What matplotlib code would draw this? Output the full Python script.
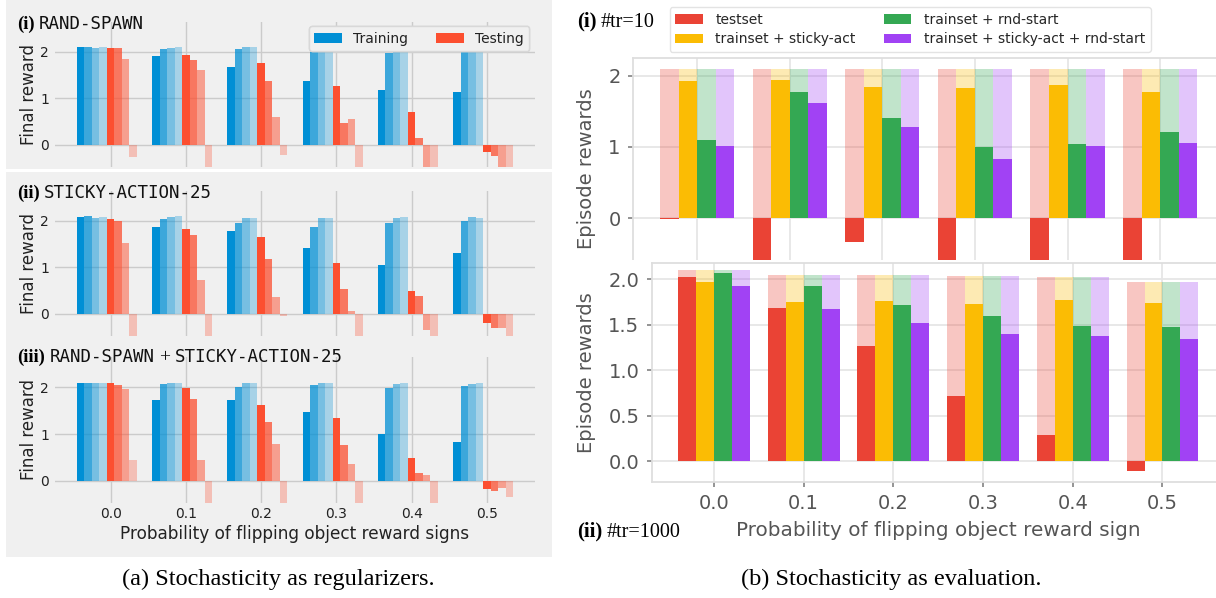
import numpy as np
import matplotlib
matplotlib.use("Agg")
import matplotlib.pyplot as plt
from matplotlib.patches import Rectangle

# ---------------- data ----------------
flip_probs = [0.0, 0.1, 0.2, 0.3, 0.4, 0.5]
xtick_labels = ["0.0", "0.1", "0.2", "0.3", "0.4", "0.5"]

# (a)(i) RAND-SPAWN : four training runs (dark -> light) and four testing runs
rs_train_1 = [2.10, 1.91, 1.67, 1.37, 1.18, 1.14]
rs_train_2 = [2.10, 2.06, 2.06, 2.04, 1.97, 2.04]
rs_train_3 = [2.08, 2.08, 2.10, 2.06, 2.08, 2.08]
rs_train_4 = [2.10, 2.10, 2.10, 2.10, 2.10, 2.08]
rs_test_1 = [2.08, 1.93, 1.76, 1.26, 0.71, -0.14]
rs_test_2 = [2.08, 1.82, 1.37, 0.47, 0.15, -0.23]
rs_test_3 = [1.84, 1.61, 0.59, 0.56, -0.80, -0.80]
rs_test_4 = [-0.25, -0.80, -0.21, -0.80, -0.80, -0.80]

# (a)(ii) STICKY-ACTION-25
sa_train_1 = [2.08, 1.86, 1.78, 1.41, 1.05, 1.31]
sa_train_2 = [2.10, 2.04, 1.95, 1.86, 1.95, 1.99]
sa_train_3 = [2.06, 2.08, 2.06, 2.06, 2.06, 2.08]
sa_train_4 = [2.08, 2.10, 2.06, 2.06, 2.08, 2.06]
sa_test_1 = [2.04, 1.82, 1.65, 1.09, 0.49, -0.19]
sa_test_2 = [1.99, 1.69, 1.18, 0.54, 0.39, -0.30]
sa_test_3 = [1.52, 0.73, 0.36, 0.06, -0.34, -0.30]
sa_test_4 = [-0.80, -0.80, -0.04, -0.80, -0.80, -0.80]

# (a)(iii) RAND-SPAWN + STICKY-ACTION-25
both_train_1 = [2.09, 1.73, 1.73, 1.47, 1.00, 0.83]
both_train_2 = [2.09, 2.07, 2.01, 2.05, 1.99, 2.03]
both_train_3 = [2.09, 2.09, 2.09, 2.09, 2.07, 2.07]
both_train_4 = [2.09, 2.09, 2.09, 2.09, 2.09, 2.09]
both_test_1 = [2.09, 1.99, 1.62, 1.34, 0.49, -0.17]
both_test_2 = [2.05, 1.75, 1.26, 0.76, 0.16, -0.21]
both_test_3 = [1.96, 0.44, 0.79, 0.36, 0.12, -0.15]
both_test_4 = [0.44, -0.80, -0.80, -0.80, -0.80, -0.34]

# (b)(i) #tr=10
tr10_testset = [-0.01, -0.90, -0.33, -0.90, -0.90, -0.90]
tr10_sticky = [1.93, 1.94, 1.845, 1.83, 1.87, 1.775]
tr10_rnd = [1.10, 1.775, 1.41, 1.00, 1.04, 1.21]
tr10_sticky_rnd = [1.02, 1.61, 1.28, 0.83, 1.02, 1.06]
tr10_max = [2.10, 2.10, 2.10, 2.10, 2.10, 2.10]

# (b)(ii) #tr=1000
tr1000_testset = [2.03, 1.685, 1.27, 0.72, 0.29, -0.11]
tr1000_sticky = [1.97, 1.75, 1.76, 1.73, 1.77, 1.74]
tr1000_rnd = [2.07, 1.93, 1.72, 1.60, 1.49, 1.48]
tr1000_sticky_rnd = [1.93, 1.67, 1.52, 1.40, 1.38, 1.34]
tr1000_max = [2.10, 2.05, 2.05, 2.04, 2.03, 1.97]

right_labels = ["testset", "trainset + sticky-act", "trainset + rnd-start",
                "trainset + sticky-act + rnd-start"]

# ---------------- style ----------------
W, H = 1216, 598
GRAY_BG = "#f0f0f0"
BLUE = "#008fd5"
RED = "#fc4f30"
SHADES = [1.0, 0.75, 0.5, 0.3]
G_RED, G_YEL, G_GRN, G_PUR = "#ea4335", "#fbbc04", "#34a853", "#a142f4"
R_TXT = "#555555"
SERIF = ["Liberation Serif", "DejaVu Serif"]
MONO = ["DejaVu Sans Mono"]

fig = plt.figure(figsize=(W / 100, H / 100), dpi=100)
fig.patch.set_facecolor("white")
renderer = fig.canvas.get_renderer()


def fx(px):
    return px / W


def fy(py):
    return 1 - py / H


def rect_px(x0, y0, x1, y1):
    return [fx(x0), fy(y1), (x1 - x0) / W, (y1 - y0) / H]


# gray background of panel (a) + white separator
fig.add_artist(Rectangle((fx(6), fy(557)), (552 - 6) / W, 557 / H, transform=fig.transFigure,
                         facecolor=GRAY_BG, edgecolor="none", zorder=-2))
fig.add_artist(Rectangle((fx(6), fy(172)), (552 - 6) / W, 3 / H, transform=fig.transFigure,
                         facecolor="white", edgecolor="none", zorder=-1))


def draw_left(box, train, test, show_x):
    ax = fig.add_axes(rect_px(*box))
    ax.set_facecolor(GRAY_BG)
    for sp in ax.spines.values():
        sp.set_visible(False)
    x = np.array(flip_probs)
    w = 0.01
    for i, vals in enumerate(train):
        ax.bar(x + (i - 4) * w, vals, w, color=BLUE, alpha=SHADES[i], linewidth=0,
               label="Training" if i == 0 else "_nolegend_")
    for i, vals in enumerate(test):
        ax.bar(x + i * w, vals, w, color=RED, alpha=SHADES[i], linewidth=0,
               label="Testing" if i == 0 else "_nolegend_")
    ax.set_xlim(-0.0735, 0.5635)
    ax.set_ylim(-0.465, 2.64)
    ax.set_yticks([0, 1, 2])
    ax.set_xticks(flip_probs)
    ax.set_xticklabels(xtick_labels if show_x else [])
    ax.grid(True, color="#cbcbcb", linewidth=1.0)
    ax.set_axisbelow(True)
    ax.tick_params(axis="both", length=0, labelsize=10, colors="#222222")
    ax.tick_params(axis="y", pad=4.5)
    ax.tick_params(axis="x", pad=3)
    ax.set_ylabel("Final reward", fontsize=12, color="#222222", va="center")
    ax.yaxis.set_label_coords((29.5 - box[0]) / (box[2] - box[0]), 0.5)
    if show_x:
        ax.set_xlabel("Probability of flipping object reward signs", fontsize=12.2,
                      color="#222222", va="center")
        ax.xaxis.set_label_coords(0.5, -(534.0 - box[3]) / (box[3] - box[1]))
    bw = box[2] - box[0]
    bh = box[3] - box[1]
    leg = ax.legend(loc="upper right", bbox_to_anchor=((529.3 - box[0]) / bw, 1 - (26 - box[1]) / bh),
                    ncol=2, fontsize=10, frameon=True, fancybox=True, borderaxespad=0,
                    columnspacing=2.0)
    leg.get_frame().set_facecolor(GRAY_BG)
    leg.get_frame().set_edgecolor("#d8d8d8")
    leg.get_frame().set_alpha(1)
    for t in leg.get_texts():
        t.set_color("#222222")
    return ax


draw_left((55.4, 21.7, 534.6, 166.7),
          [rs_train_1, rs_train_2, rs_train_3, rs_train_4],
          [rs_test_1, rs_test_2, rs_test_3, rs_test_4], False)
draw_left((55.4, 190.7, 534.6, 335.7),
          [sa_train_1, sa_train_2, sa_train_3, sa_train_4],
          [sa_test_1, sa_test_2, sa_test_3, sa_test_4], False)
draw_left((55.4, 357.3, 534.6, 502.7),
          [both_train_1, both_train_2, both_train_3, both_train_4],
          [both_test_1, both_test_2, both_test_3, both_test_4], True)


def pieces(x_px, base_px, parts):
    x = x_px
    for txt, kw, gap in parts:
        t = fig.text(fx(x), fy(base_px), txt, ha="left", va="baseline", **kw)
        bb = t.get_window_extent(renderer=renderer)
        x = x + bb.width + gap


lab_kw = dict(family=SERIF, fontweight="bold", fontsize=13.5, color="black")
mono_kw = dict(family=MONO, fontsize=12.6, color="#111111")
plus_kw = dict(family=SERIF, fontsize=14, color="#111111")
pieces(17.5, 29.3, [("(i)", lab_kw, 4), ("RAND-SPAWN", mono_kw, 0)])
pieces(17.5, 198.3, [("(ii)", lab_kw, 4), ("STICKY-ACTION-25", mono_kw, 0)])
pieces(17.5, 362.0, [("(iii)", lab_kw, 4), ("RAND-SPAWN", mono_kw, 5), ("+", plus_kw, 5),
                     ("STICKY-ACTION-25", mono_kw, 0)])


def draw_right(box, ylim, yticks, yticklabels, series, maxv, show_x, z):
    ax = fig.add_axes(rect_px(*box))
    ax.set_zorder(z)
    ax.set_facecolor("white")
    x = np.array(flip_probs)
    w = 0.02
    cols = [G_RED, G_YEL, G_GRN, G_PUR]
    handles = []
    for i, (vals, c, lab) in enumerate(zip(series, cols, right_labels)):
        pos = x + (i - 1.5) * w
        ax.bar(pos, maxv, w, color=c, alpha=0.3, linewidth=0)
        h = ax.bar(pos, vals, w, color=c, linewidth=0, label=lab)
        handles.append(h)
    ax.set_xlim(-0.069, 0.569)
    ax.set_ylim(*ylim)
    ax.set_yticks(yticks)
    ax.set_yticklabels(yticklabels)
    ax.set_xticks(flip_probs)
    ax.grid(True, color="#e6e6e6", linewidth=1.3)
    ax.set_axisbelow(True)
    for sp in ax.spines.values():
        sp.set_color("#dedede")
        sp.set_linewidth(1.3)
    ax.tick_params(axis="y", length=3.6, width=1.1, color="#777777", labelsize=14,
                   labelcolor=R_TXT, pad=5.5)
    if show_x:
        ax.set_xticklabels(xtick_labels)
        ax.tick_params(axis="x", length=3.6, width=1.1, color="#777777", labelsize=14,
                       labelcolor=R_TXT, pad=4.5)
        ax.set_xlabel("Probability of flipping object reward sign", fontsize=14.4,
                      color=R_TXT, va="center")
        ax.xaxis.set_label_coords(0.5, -(531.0 - box[3]) / (box[3] - box[1]))
    else:
        ax.tick_params(axis="x", length=0, labelbottom=False)
    ax.set_ylabel("Episode rewards", fontsize=14, color=R_TXT, va="center")
    ax.yaxis.set_label_coords((587 - box[0]) / (box[2] - box[0]), 0.5)
    return ax, handles


ax_top, hs = draw_right((633.2, 58.3, 1224.0, 278.3), (-0.842, 2.244), [0, 1, 2], ["0", "1", "2"],
                        [tr10_testset, tr10_sticky, tr10_rnd, tr10_sticky_rnd], tr10_max, False, 0)
# white strip where the lower plot overlaps the upper one
fig.add_artist(Rectangle((fx(560), fy(288)), (W - 560) / W, (288 - 260.3) / H,
                         transform=fig.transFigure, facecolor="white", edgecolor="none", zorder=0.5))
draw_right((652.0, 262.5, 1224.4, 482.3), (-0.231, 2.185), [0.0, 0.5, 1.0, 1.5, 2.0],
           ["0.0", "0.5", "1.0", "1.5", "2.0"],
           [tr1000_testset, tr1000_sticky, tr1000_rnd, tr1000_sticky_rnd], tr1000_max, True, 1)

leg = fig.legend(handles=hs, labels=right_labels, loc="upper left",
                 bbox_to_anchor=(fx(669.6), fy(7.3)), ncol=2, fontsize=10, frameon=True,
                 fancybox=True, borderaxespad=0, columnspacing=2.0, handletextpad=0.9,
                 labelspacing=0.4)
leg.get_frame().set_edgecolor("#dddddd")
leg.get_frame().set_facecolor("white")
for t in leg.get_texts():
    t.set_color("#262626")

rlab_b = dict(family=SERIF, fontweight="bold", fontsize=15, color="black")
rlab_n = dict(family=SERIF, fontsize=14.5, color="black")
pieces(577, 26.7, [("(i)", rlab_b, 4), ("#tr=10", rlab_n, 0)])
pieces(577, 536.7, [("(ii)", rlab_b, 4), ("#tr=1000", rlab_n, 0)])

fig.text(fx(278), fy(579), "(a) Stochasticity as regularizers.", family=SERIF, fontsize=17.5,
         ha="center", va="center", color="black")
fig.text(fx(891), fy(579), "(b) Stochasticity as evaluation.", family=SERIF, fontsize=17.5,
         ha="center", va="center", color="black")

fig.savefig("out.png", dpi=100, facecolor="white")
